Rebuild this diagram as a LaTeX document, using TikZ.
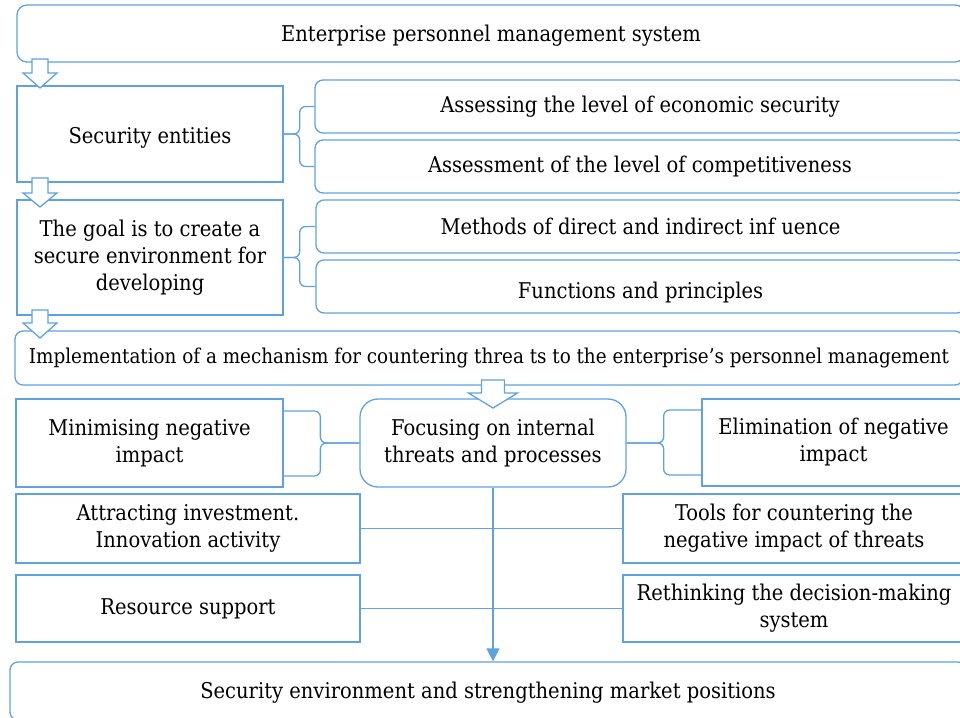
\documentclass[tikz,border=0pt]{standalone}
\usepackage{fontspec}
\setmainfont{DejaVu Serif Condensed}
\usetikzlibrary{arrows.meta}
\definecolor{ln}{RGB}{94,163,222}
\newcommand\fs{\fontsize{21.7}{27}\selectfont}
\newcommand\fsi{\fontsize{20.4}{27}\selectfont}
\newcommand\barrow[6]{\draw[conn,fill=white,line join=miter] (#1-#5,#2) -- (#1+#5,#2) -- (#1+#5,#3) -- (#1+#6,#3) -- (#1,#4) -- (#1-#6,#3) -- (#1-#5,#3) -- cycle;}
\begin{document}
\begin{tikzpicture}[x=1pt,y=-1pt,
  box/.style={draw=ln,line width=1.3pt,fill=white,inner sep=0pt,align=center,font=\fs,text=black},
  rbox/.style={box,rounded corners=8pt},
  conn/.style={draw=ln,line width=1.3pt}]
\useasboundingbox (0,0) rectangle (960,717);
\clip (0,0) rectangle (960,717);
% boxes
\node[box,rounded corners=10pt,minimum width=948pt,minimum height=57pt,text height=20pt] (top) at (491,33.5) {Enterprise personnel management system};
\node[box,minimum width=266pt,minimum height=96pt,text height=24pt] (sec) at (150,134) {Security entities};
\node[rbox,minimum width=650pt,minimum height=53pt] (as1) at (640,106.5) {Assessing the level of economic security};
\node[rbox,minimum width=650pt,minimum height=53pt] (as2) at (640,166.5) {Assessment of the level of competitiveness};
\node[box,minimum width=266pt,minimum height=115pt] (goal) at (150,257.5) {The goal is to create a\\secure environment for\\developing};
\node[rbox,minimum width=649pt,minimum height=53pt] (meth) at (640.5,226.5) {Methods of direct and indirect inf uence};
\node[rbox,minimum width=649pt,minimum height=53pt,text height=28pt] (func) at (640.5,286.5) {Functions and principles};
\node[rbox,minimum width=948pt,minimum height=54pt,font=\fsi] (impl) at (489,358) {Implementation of a mechanism for countering threa ts to the enterprise’s personnel management};
\node[box,minimum width=267pt,minimum height=88pt] (minn) at (149.5,443) {Minimising negative\\impact};
\node[box,rounded corners=18pt,minimum width=266pt,minimum height=88pt] (foc) at (493,443) {Focusing on internal\\threats and processes};
\node[box,minimum width=263pt,minimum height=87pt] (elim) at (833.5,442.5) {Elimination of negative\\impact};
\node[box,minimum width=344pt,minimum height=69pt] (attr) at (188,528.5) {Attracting investment.\\Innovation activity};
\node[box,minimum width=342pt,minimum height=69pt] (tools) at (794,528.5) {Tools for countering the\\negative impact of threats};
\node[box,minimum width=344pt,minimum height=67pt] (res) at (188,608.5) {Resource support};
\node[box,minimum width=342pt,minimum height=67pt] (reth) at (794,608.5) {Rethinking the decision-making\\system};
\node[rbox,minimum width=956pt,minimum height=58pt,text height=19pt] (bot) at (488,691) {Security environment and strengthening market positions};
% braces
\draw[conn,rounded corners=6pt] (sec.east) -- ++(16,0) |- (as1.west);
\draw[conn,rounded corners=6pt] (sec.east) -- ++(16,0) |- (as2.west);
\draw[conn,rounded corners=6pt] (goal.east) -- ++(16,0) |- (meth.west);
\draw[conn,rounded corners=6pt] (goal.east) -- ++(16,0) |- (func.west);
\draw[conn,rounded corners=6pt] (foc.west) -- ++(-39,0) |- ([yshift=32pt]minn.east);
\draw[conn,rounded corners=6pt] (foc.west) -- ++(-39,0) |- ([yshift=-33pt]minn.east);
\draw[conn,rounded corners=6pt] (foc.east) -- ++(37,0) |- ([yshift=32.5pt]elim.west);
\draw[conn,rounded corners=6pt] (foc.east) -- ++(37,0) |- ([yshift=-32.5pt]elim.west);
% horizontal links
\draw[conn] (attr.east) -- (tools.west);
\draw[conn] (res.east) -- (reth.west);
% main vertical arrow
\draw[conn,-{Triangle[length=13pt,width=13pt,fill=ln]}] (foc.south) -- (foc.south |- bot.north);
% block arrows
\barrow{40}{59}{73}{88}{8}{17}
\barrow{40}{178}{193}{207}{8}{17}
\barrow{40}{310}{323}{338}{8}{17}
\barrow{493}{380}{393}{408}{11.5}{24.5}
\end{tikzpicture}
\end{document}
